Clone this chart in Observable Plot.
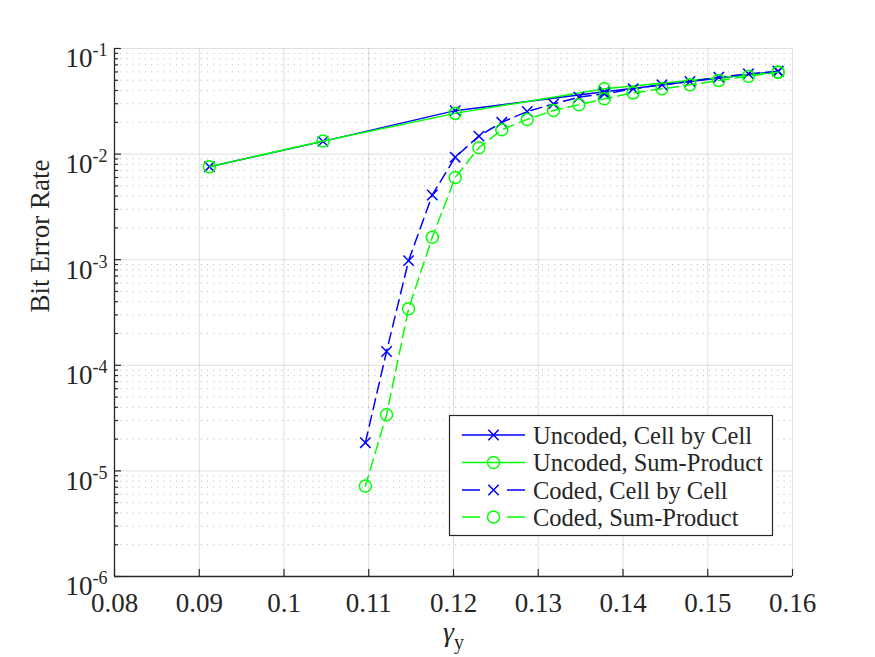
<!DOCTYPE html>
<html>
<head>
<meta charset="utf-8">
<script src="https://cdn.jsdelivr.net/npm/d3@7"></script>
<script src="https://cdn.jsdelivr.net/npm/@observablehq/plot@0.6"></script>
<style>
  body { margin: 0; background: #fff; }
  svg { display: block; }
</style>
</head>
<body>
<div id="chart"></div>
<script>
// Threshold gamma_y for each simulated point
const gammaUncoded = [0.0912, 0.1046, 0.1202, 0.1378, 0.1583];
const gammaCoded = [0.1096, 0.1121, 0.1147, 0.1175, 0.1202, 0.1230, 0.1257, 0.1287, 0.1318,
                    0.1348, 0.1378, 0.1412, 0.1446, 0.1479, 0.1513, 0.1548, 0.1583];

// Bit error rates
const berUncodedCellByCell = [7.6e-3, 1.32e-2, 2.58e-2, 3.9e-2, 6.1e-2];
const berUncodedSumProduct = [7.6e-3, 1.33e-2, 2.43e-2, 4.15e-2, 6.0e-2];
const berCodedCellByCell = [1.85e-5, 1.35e-4, 9.8e-4, 4.1e-3, 9.35e-3, 1.48e-2, 2.0e-2, 2.53e-2, 2.99e-2,
                            3.46e-2, 3.72e-2, 4.15e-2, 4.53e-2, 4.87e-2, 5.35e-2, 5.76e-2, 6.05e-2];
const berCodedSumProduct = [7.2e-6, 3.4e-5, 3.43e-4, 1.63e-3, 6.0e-3, 1.15e-2, 1.7e-2, 2.13e-2, 2.59e-2,
                            2.93e-2, 3.34e-2, 3.8e-2, 4.15e-2, 4.53e-2, 4.98e-2, 5.47e-2, 5.97e-2];

const seriesNames = ["Uncoded, Cell by Cell", "Uncoded, Sum-Product", "Coded, Cell by Cell", "Coded, Sum-Product"];

// Axis ticks
const xTickValues = [0.08, 0.09, 0.10, 0.11, 0.12, 0.13, 0.14, 0.15, 0.16];
const yTickExponents = [-6, -5, -4, -3, -2, -1];
const yMinorMultipliers = [2, 3, 4, 5, 6, 7, 8, 9];

const yTickValues = yTickExponents.map(e => Math.pow(10, e));
const yMinorValues = yTickExponents.slice(0, -1)
  .flatMap(e => yMinorMultipliers.map(m => m * Math.pow(10, e)));

// Series table
const seriesData = [
  {name: seriesNames[0], x: gammaUncoded, y: berUncodedCellByCell},
  {name: seriesNames[1], x: gammaUncoded, y: berUncodedSumProduct},
  {name: seriesNames[2], x: gammaCoded, y: berCodedCellByCell},
  {name: seriesNames[3], x: gammaCoded, y: berCodedSumProduct}
].map(s => ({name: s.name, rows: s.x.map((g, i) => ({gamma: g, ber: s.y[i]}))}));

// Drawing style for each series
const styles = [
  {color: "#0000ff", dash: null, symbol: "times"},
  {color: "#00ff00", dash: null, symbol: "circle"},
  {color: "#0000ff", dash: "11,6", symbol: "times"},
  {color: "#00ff00", dash: "11,6", symbol: "circle"}
];

const FONT = "Liberation Serif, Times New Roman, serif";
const INK = "#262626";
const frameW = 678, frameH = 528;

const seriesMarks = seriesData.flatMap((s, i) => {
  const st = styles[i];
  return [
    Plot.line(s.rows, {x: "gamma", y: "ber", stroke: st.color, strokeWidth: 1.5,
      strokeDasharray: st.dash ?? undefined}),
    Plot.dot(s.rows, {x: "gamma", y: "ber", symbol: st.symbol, stroke: st.color,
      fill: "none", strokeWidth: 1.5, r: st.symbol === "times" ? 4.8 : 6})
  ];
});

const chart = Plot.plot({
  width: 875,
  height: 657,
  marginTop: 48,
  marginRight: 83,
  marginBottom: 81,
  marginLeft: 114,
  style: {fontFamily: FONT, color: INK, background: "#fff"},
  x: {domain: [0.08, 0.16], axis: null},
  y: {type: "log", domain: [1e-6, 1e-1], axis: null},
  marks: [
    Plot.gridY(yMinorValues, {stroke: INK, strokeOpacity: 0.32, strokeDasharray: "1,5.2"}),
    Plot.gridY(yTickValues, {stroke: INK, strokeOpacity: 0.15}),
    Plot.gridX(xTickValues, {stroke: INK, strokeOpacity: 0.15}),
    ...seriesMarks,
    // axis lines and inward ticks
    Plot.ruleX([0.08], {stroke: INK, strokeWidth: 1.3}),
    Plot.ruleY([1e-6], {stroke: INK, strokeWidth: 1.3}),
    Plot.ruleX(xTickValues, {stroke: INK, strokeWidth: 1.2, insetTop: frameH - 7}),
    Plot.ruleY(yTickValues, {stroke: INK, strokeWidth: 1.2, insetRight: frameW - 7}),
    Plot.ruleY(yMinorValues, {stroke: INK, strokeWidth: 1.2, insetRight: frameW - 4}),
    Plot.axisX(xTickValues, {tickSize: 0, tickPadding: 16, fontSize: 27, label: null,
      tickFormat: d3.format("~g"), fill: INK}),
    Plot.axisY(yTickValues, {tickSize: 0, tickPadding: 7, fontSize: 27, label: null,
      tickFormat: d => "10^" + Math.round(Math.log10(d)), fill: INK}),
    Plot.text(["Bit Error Rate"], {frameAnchor: "left", dx: -74, rotate: -90,
      fontSize: 27, fill: INK}),
    Plot.text(["γ_y"], {frameAnchor: "bottom", dy: 64, fontSize: 28, fill: INK})
  ]
});

const svg = d3.select(chart);

// Exponent superscripts on the y tick labels
svg.selectAll('g[aria-label="y-axis tick label"] text').each(function () {
  const t = d3.select(this);
  const [base, exp] = t.text().split("^");
  t.text(base).attr("dy", "0.38em");
  t.append("tspan").attr("dy", -11).attr("font-size", 18).text(exp);
});

// Subscript on the x axis label
svg.selectAll("text").filter(function () { return d3.select(this).text() === "γ_y"; })
  .each(function () {
    const t = d3.select(this);
    t.text("");
    t.append("tspan").attr("font-style", "italic").text("γ");
    t.append("tspan").attr("dy", 8).attr("font-size", 20).text("y");
  });

// Legend box
const legend = svg.append("g").attr("font-family", FONT).attr("font-size", 24.5)
  .attr("fill", INK).attr("text-anchor", "start");
const box = {x: 449.5, y: 415.5, w: 323, h: 120};
legend.append("rect").attr("x", box.x).attr("y", box.y).attr("width", box.w).attr("height", box.h)
  .attr("fill", "#fff").attr("stroke", INK).attr("stroke-width", 1.2);
const rowY = [435, 462.5, 490, 517];
const sym = {
  times: d3.symbol(d3.symbolTimes, Math.PI * 4.8 * 4.8)(),
  circle: d3.symbol(d3.symbolCircle, Math.PI * 6 * 6)()
};
seriesNames.forEach((name, i) => {
  const st = styles[i];
  const y = rowY[i];
  legend.append("line").attr("x1", 462).attr("x2", 525).attr("y1", y).attr("y2", y)
    .attr("stroke", st.color).attr("stroke-width", 1.5)
    .attr("stroke-dasharray", st.dash ? "18,27" : null);
  legend.append("path").attr("d", sym[st.symbol]).attr("transform", `translate(493.5,${y})`)
    .attr("fill", "none").attr("stroke", st.color).attr("stroke-width", 1.5);
  legend.append("text").attr("x", 533).attr("y", y + 8.5).attr("text-anchor", "start").text(name);
});

document.getElementById("chart").appendChild(chart);
</script>
</body>
</html>
